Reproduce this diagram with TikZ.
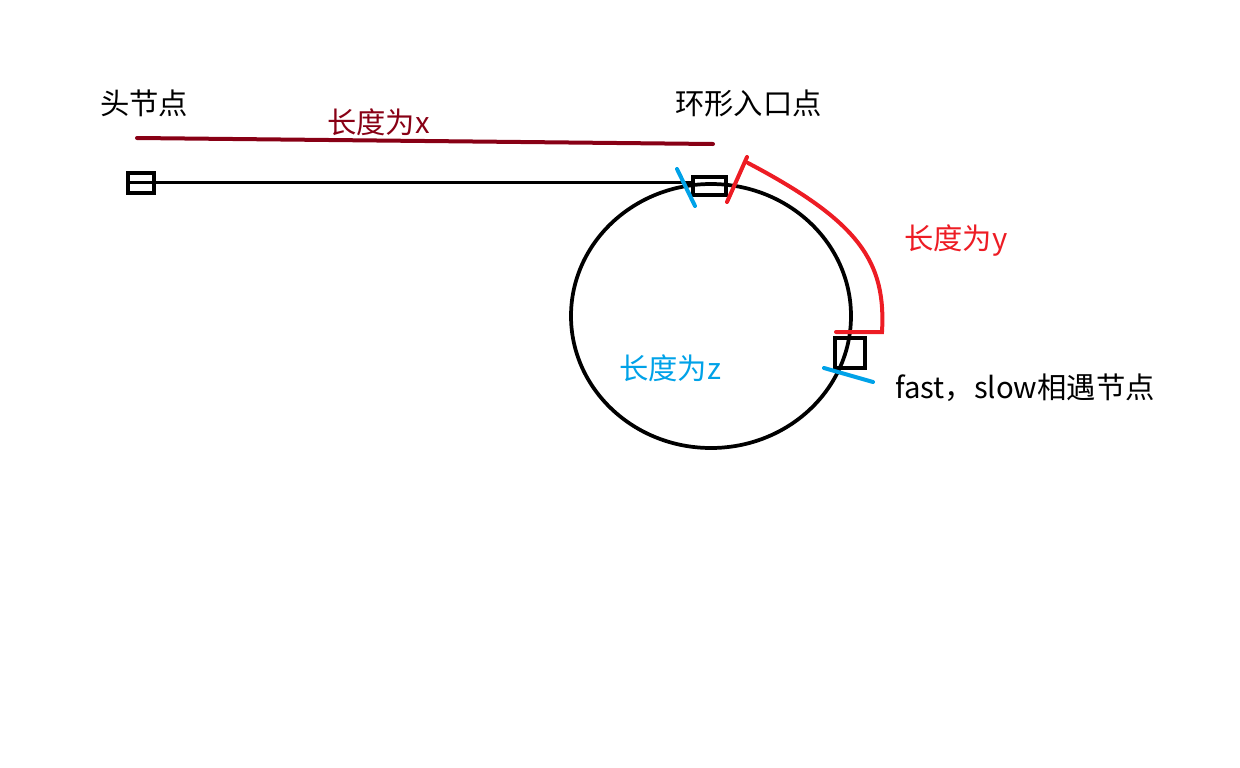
\documentclass[tikz,border=0pt]{standalone}
\usepackage{fontspec}
\setmainfont{Noto Sans CJK SC}
\usepackage{tikz}
\usetikzlibrary{positioning}
\definecolor{lenxred}{HTML}{880015}
\definecolor{lenyred}{HTML}{ED1C24}
\definecolor{lenzblue}{HTML}{00A2E8}
\tikzset{
  listbox/.style={draw,line width=3pt,inner sep=0pt},
  tick/.style={line width=3pt,line cap=round},
  label/.style={anchor=west,inner sep=0pt,font=\fontsize{22}{26}\selectfont}
}
\begin{document}
\begin{tikzpicture}[x=0.75pt,y=0.75pt,yscale=-1,xscale=1]
\useasboundingbox (0,0) rectangle (1240,768);

%Shape: Circle (the ring)
\draw [line width=2.8pt] (711,316) ellipse (140 and 132);

%Shape: Boxes
\node (head) [listbox,minimum width=19.5pt,minimum height=15pt] at (141,182.5) {};
\node (entry) [listbox,minimum width=24.5pt,minimum height=13.5pt] at (709.5,185.5) {};
\node (meet) [listbox,minimum width=22.5pt,minimum height=22.5pt] at (850,353) {};

%Straight Lines (list part)
\draw [line width=2.8pt] (head.west) -- (head.west -| entry.west);

%Straight Lines (length x)
\coordinate (xstart) at (137,138);
\coordinate (xend) at (713,144);
\draw [lenxred,tick] (xstart) -- (xend);

%Ticks at entry point
\coordinate (ztop) at (677,169);
\coordinate (zbot) at (695,206);
\draw [lenzblue,tick] (ztop) -- (zbot);
\coordinate (ybot) at (727,202);
\coordinate (ytop) at (747,157);
\draw [lenyred,tick] (ybot) -- (ytop);

%Curve (length y)
\coordinate (yarc) at (748,163);
\coordinate (yend) at (882,332);
\coordinate (ymeet) at (836,332);
\draw [lenyred,tick] (yarc) .. controls (860,222) and (886,262) .. (yend) -- (ymeet);

%Tick at meeting point
\coordinate (mleft) at (824,368);
\coordinate (mright) at (873,382);
\draw [lenzblue,tick] (mleft) -- (mright);

% Text Node
\node (headlbl) [label] at (100,103) {头节点};
% Text Node
\node (entrylbl) [label] at (675,103) {环形入口点};
% Text Node
\node (xlbl) [label,text=lenxred] at (327,122) {长度为x};
% Text Node
\node (ylbl) [label,text=lenyred] at (904,241) {长度为y};
% Text Node
\node (zlbl) [label,text=lenzblue] at (619,368) {长度为z};
% Text Node
\node (meetlbl) [label] at (895,388) {fast，slow相遇节点};

\end{tikzpicture}
\end{document}
